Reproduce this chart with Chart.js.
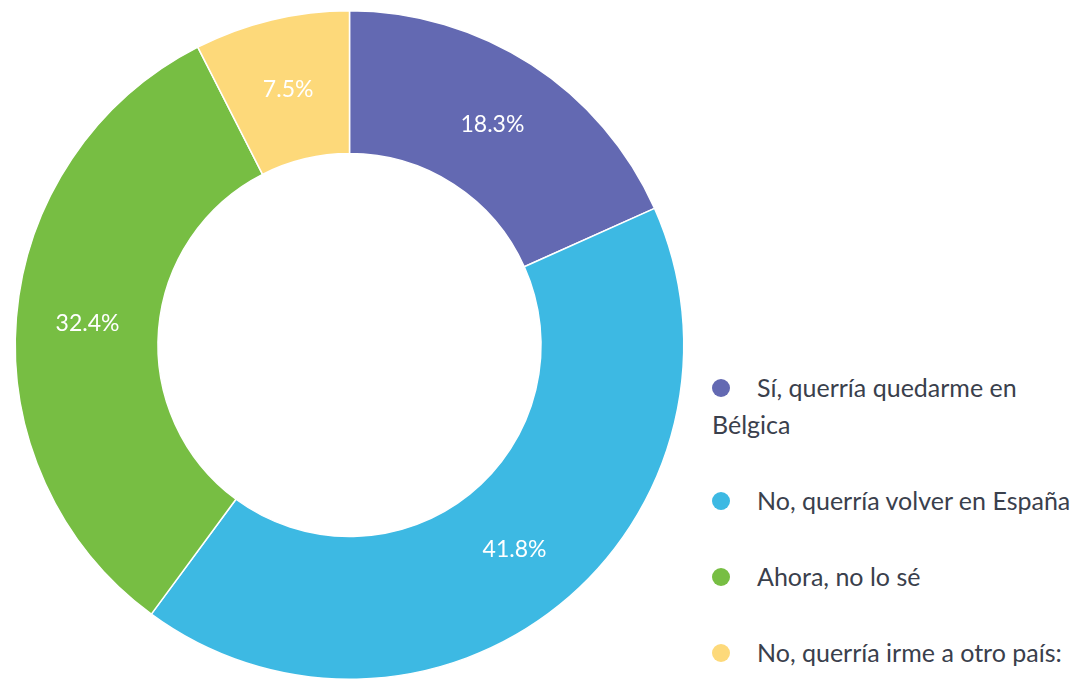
<!DOCTYPE html>
<html>
<head>
<meta charset="utf-8">
<script src="https://cdn.jsdelivr.net/npm/chart.js@4/dist/chart.umd.min.js"></script>
<style>
  html, body { margin:0; padding:0; background:#fff; overflow:hidden; width:1084px; height:679px; }
  #wrap { position:absolute; left:0; top:0; width:699px; height:690px; }
  #legend { position:absolute; left:712px; top:369px; width:372px; font-family: Lato, "Open Sans", sans-serif; font-size:25px; color:#3a404c; }
  #legend .item { line-height:37px; margin:0 0 39px 0; white-space:normal; }
  #legend .dot { display:inline-block; width:18px; height:18px; border-radius:50%; margin-right:27px; vertical-align:0px; }
</style>
</head>
<body>
<div id="wrap"><canvas id="c"></canvas></div>
<div id="legend"></div>
<script>
const categories = [
  "Sí, querría quedarme en Bélgica",
  "No, querría volver en España",
  "Ahora, no lo sé",
  "No, querría irme a otro país:"
];
const values = [18.3, 41.8, 32.4, 7.5];
const valueLabels = ["18.3%", "41.8%", "32.4%", "7.5%"];
const colors = ["#6369B2", "#3DB9E3", "#77BE43", "#FDD97A"];

const sliceLabels = {
  id: 'sliceLabels',
  afterDatasetsDraw(chart) {
    const ctx = chart.ctx;
    const meta = chart.getDatasetMeta(0);
    ctx.save();
    ctx.fillStyle = '#ffffff';
    ctx.font = '23px Lato, "Open Sans", sans-serif';
    ctx.textAlign = 'center';
    ctx.textBaseline = 'middle';
    meta.data.forEach((arc, i) => {
      const p = arc.tooltipPosition();
      ctx.fillText(valueLabels[i], p.x, p.y);
    });
    ctx.restore();
  }
};

const chart = new Chart(document.getElementById('c'), {
  type: 'doughnut',
  data: {
    labels: categories,
    datasets: [{
      data: values,
      backgroundColor: colors,
      borderColor: '#ffffff',
      borderWidth: 1.5,
      hoverOffset: 0
    }]
  },
  options: {
    responsive: true,
    maintainAspectRatio: false,
    animation: false,
    cutout: '57.3%',
    layout: { padding: { top: 10, bottom: 10, left: 0, right: 0 } },
    plugins: {
      legend: { display: false },
      tooltip: { enabled: false }
    }
  },
  plugins: [sliceLabels]
});

const legendEl = document.getElementById('legend');
const items = Chart.overrides.doughnut.plugins.legend.labels.generateLabels(chart);
items.forEach(it => {
  const div = document.createElement('div');
  div.className = 'item';
  const dot = document.createElement('span');
  dot.className = 'dot';
  dot.style.background = it.fillStyle;
  div.appendChild(dot);
  div.appendChild(document.createTextNode(it.text));
  legendEl.appendChild(div);
});
</script>
</body>
</html>
